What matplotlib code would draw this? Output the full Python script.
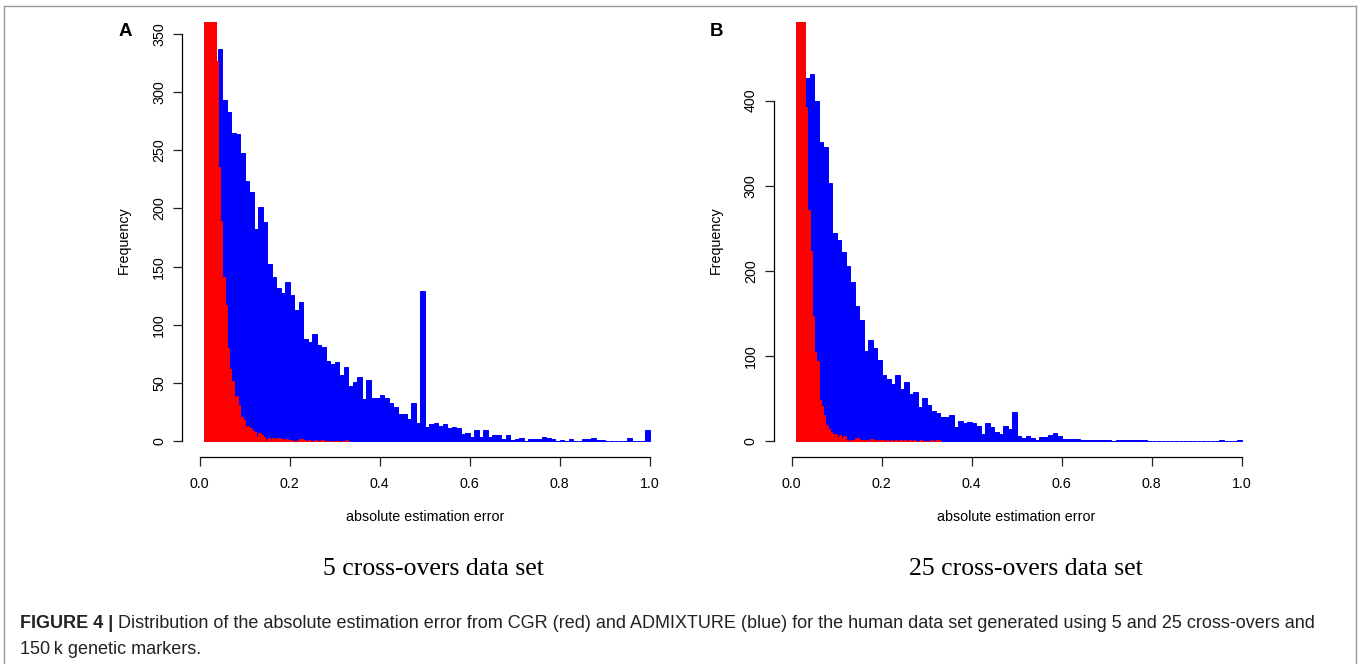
import matplotlib
matplotlib.use("Agg")
import matplotlib.pyplot as plt
from matplotlib.lines import Line2D
import numpy as np

W, H = 1360, 664

# blue = ADMIXTURE, bins of 0.01 starting at 0.01
blue_start = 0.01
blue_width = 0.01
blue_a = [120, 230, 300, 337, 293, 283, 265, 264, 248, 224,
          214, 182, 201, 188, 152, 141, 132, 127, 137, 126,
          113, 120, 88, 85, 92, 83, 81, 69, 66, 68,
          57, 64, 47, 51, 55, 36, 53, 37, 37, 40,
          37, 33, 29, 23, 23, 19, 33, 16, 129, 12,
          15, 16, 13, 15, 11, 12, 11, 6, 7, 4,
          10, 4, 10, 4, 5, 5, 2, 5, 1, 2,
          3, 0, 2, 2, 2, 4, 3, 2, 0, 1,
          0, 2, 0, 0, 2, 2, 3, 1, 1, 0,
          0, 0, 0, 0, 3, 0, 0, 0, 10]
blue_b = [150, 300, 426, 431, 400, 351, 345, 303, 245, 236,
          222, 206, 187, 159, 142, 106, 119, 109, 95, 78,
          73, 67, 78, 61, 69, 55, 58, 40, 51, 42,
          35, 33, 28, 29, 31, 17, 24, 21, 22, 21,
          18, 8, 21, 17, 11, 9, 18, 14, 34, 6,
          4, 6, 4, 1, 5, 5, 7, 10, 6, 3,
          3, 3, 3, 2, 1, 1, 2, 2, 1, 1,
          0, 1, 2, 1, 1, 1, 1, 1, 0, 0,
          0, 0, 0, 0, 0, 0, 0, 0, 0, 0,
          0, 0, 0, 0, 1, 0, 0, 0, 1]

# red = CGR, bins of 0.005 starting at 0.01
red_start = 0.01
red_width = 0.005
red_a = [520, 780, 700, 560, 420, 327, 236, 189, 141, 117,
         80, 62, 52, 38, 39, 31, 21, 18, 12, 13,
         11, 9, 8, 4, 7, 5, 4, 0, 3, 2,
         3, 2, 3, 3, 2, 1, 2, 1, 1, 0,
         0, 1, 2, 2, 1, 0, 1, 0, 0, 1,
         0, 0, 1, 0, 0, 0, 0, 0, 0, 0,
         0, 0, 0, 1]
red_b = [900, 1150, 1000, 720, 393, 271, 223, 147, 105, 94,
         48, 41, 31, 19, 14, 11, 9, 8, 5, 7,
         4, 6, 2, 0, 1, 1, 4, 4, 2, 1,
         1, 1, 0, 3, 2, 1, 0, 1, 1, 0,
         1, 0, 1, 0, 1, 0, 1, 0, 1, 0,
         1, 0, 1, 0, 0, 1, 0, 0, 0, 0,
         1, 0, 1, 1]

panels = [
    {"letter": "A", "blue": blue_a, "red": red_a, "ylim": (-13.85, 360),
     "yticks": [0, 50, 100, 150, 200, 250, 300, 350],
     "caption": "5 cross-overs data set", "left": 181.8},
    {"letter": "B", "blue": blue_b, "red": red_b, "ylim": (-18.9, 492),
     "yticks": [0, 100, 200, 300, 400],
     "caption": "25 cross-overs data set", "left": 773.6},
]
xticks = [0.0, 0.2, 0.4, 0.6, 0.8, 1.0]

plt.rcParams['font.family'] = ['Liberation Sans', 'DejaVu Sans']

fig = plt.figure(figsize=(W / 100, H / 100), dpi=100)


def px(x, y):
    return x / W, 1 - y / H


lab_size = 10.3
ax_w = 486.0
ax_top, ax_bot = 22.3, 457.3
for p in panels:
    l = p["left"]
    ax = fig.add_axes([l / W, 1 - ax_bot / H, ax_w / W, (ax_bot - ax_top) / H])
    be = blue_start + blue_width * np.arange(len(p["blue"]))
    ax.bar(be, p["blue"], width=blue_width, align="edge", color="#0000ff",
           edgecolor="#0000ff", linewidth=0.7)
    re = red_start + red_width * np.arange(len(p["red"]))
    ax.bar(re, p["red"], width=red_width, align="edge", color="#ff0000",
           edgecolor="#ff0000", linewidth=0.7)
    ax.set_xlim(-0.04, 1.04)
    ax.set_ylim(*p["ylim"])
    for s in ["top", "right"]:
        ax.spines[s].set_visible(False)
    ax.spines["left"].set_bounds(0, p["yticks"][-1])
    ax.spines["bottom"].set_bounds(0, 1)
    ax.spines["left"].set_linewidth(0.9)
    ax.spines["bottom"].set_linewidth(0.9)
    ax.set_xticks(xticks)
    ax.set_xticklabels(["%.1f" % t for t in xticks])
    ax.set_yticks(p["yticks"])
    ax.set_yticklabels([str(t) for t in p["yticks"]], rotation=90, va="center")
    ax.tick_params(axis="both", direction="out", length=6.3, width=0.9,
                   labelsize=lab_size, color="#222222")
    ax.tick_params(axis="x", pad=8)
    ax.tick_params(axis="y", pad=5)
    ax.set_facecolor("none")

    x0 = l + 0.04 * ax_w / 1.08
    xc = x0 + 0.5 * ax_w / 1.08
    fig.text(*px(xc, 517), "absolute estimation error", ha="center",
             va="center", fontsize=lab_size)
    fig.text(*px(l - 58, 240), "Frequency", ha="center", va="center",
             rotation=90, fontsize=lab_size)
    fig.text(*px(l - 57, 31), p["letter"], ha="center", va="center",
             fontsize=13.5, fontweight="bold")
    fig.text(*px(xc + 9, 569), p["caption"], ha="center", va="center",
             fontsize=18.5, family="Liberation Serif")

# figure caption
renderer = fig.canvas.get_renderer()
cap_size = 12
t1 = fig.text(*px(20, 623), "FIGURE 4 |", ha="left", va="center",
              fontsize=cap_size, fontweight="bold", color="#222222")
rest = (" Distribution of the absolute estimation error from CGR (red) and "
        "ADMIXTURE (blue) for the human data set generated using 5 and 25 "
        "cross-overs and")
t2 = fig.text(0, 0, rest, ha="left", va="center", fontsize=cap_size,
              color="#222222")
w1 = t1.get_window_extent(renderer).width
w2 = t2.get_window_extent(renderer).width
scale = 1295.0 / (w1 + w2)
cap_size = cap_size * scale
t1.set_fontsize(cap_size)
t2.set_fontsize(cap_size)
w1 = t1.get_window_extent(renderer).width
t2.set_position(px(20 + w1, 623))
fig.text(*px(20, 649), "150\u2009k genetic markers.", ha="left", va="center",
         fontsize=cap_size, color="#222222")

# thin frame around the figure
fc = "#9a9a9a"
fig.add_artist(Line2D([4 / W, 4 / W], [0, 1 - 6 / H], color=fc, lw=1,
                      transform=fig.transFigure))
fig.add_artist(Line2D([4 / W, 1356 / W], [1 - 6 / H, 1 - 6 / H], color=fc,
                      lw=1, transform=fig.transFigure))
fig.add_artist(Line2D([1356 / W, 1356 / W], [0, 1 - 6 / H], color=fc, lw=1,
                      transform=fig.transFigure))

fig.savefig("out.png", dpi=100)
